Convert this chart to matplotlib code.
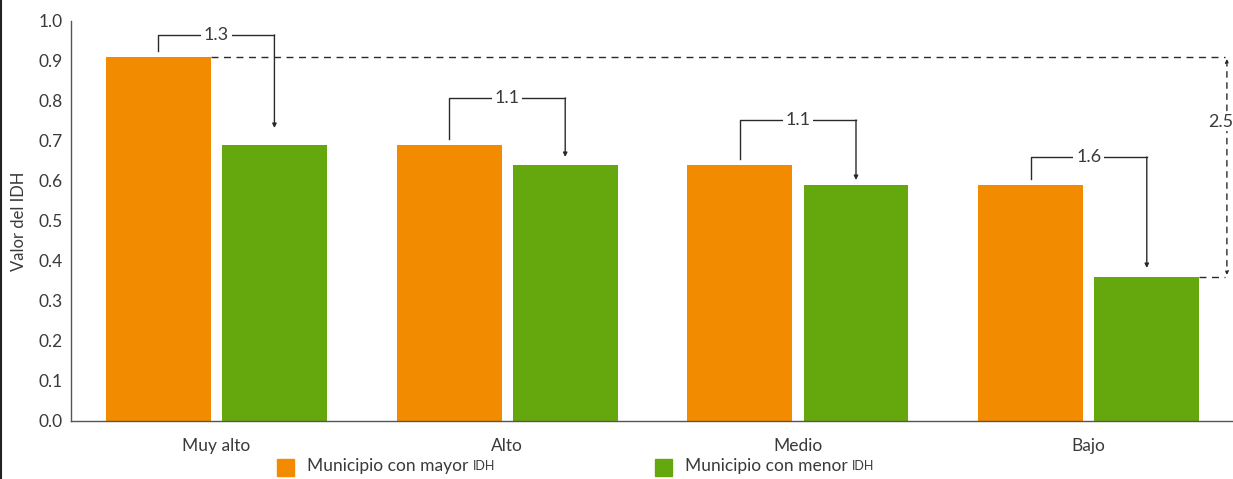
import numpy as np
import matplotlib
matplotlib.use("Agg")
import matplotlib.pyplot as plt
from matplotlib.lines import Line2D
from matplotlib.patches import Rectangle

plt.rcParams["font.family"] = ["Lato", "DejaVu Sans"]

# datos
categorias = ["Muy alto", "Alto", "Medio", "Bajo"]
idh_mayor = [0.91, 0.69, 0.64, 0.59]
idh_menor = [0.69, 0.64, 0.59, 0.36]
brecha = ["1.3", "1.1", "1.1", "1.6"]
nivel_corchete = [0.965, 0.8075, 0.7525, 0.66]
fin_flecha = [0.7325, 0.66, 0.6025, 0.3825]
brecha_total = "2.5"
y_ticks = [0.0, 0.1, 0.2, 0.3, 0.4, 0.5, 0.6, 0.7, 0.8, 0.9, 1.0]

naranja = "#F28B00"
verde = "#64A80D"
gris = "#2a2a2a"
texto = "#3a3a3a"

fig = plt.figure(figsize=(12.33, 4.79), dpi=100)
ax = fig.add_axes([0.0576, 0.1211, 0.9424, 0.8351])

x = np.arange(len(categorias))
ancho = 0.361
desp = 0.1995
ax.bar(x - desp, idh_mayor, width=ancho, color=naranja, zorder=2)
ax.bar(x + desp, idh_menor, width=ancho, color=verde, zorder=2)

# corchetes con flecha
for i in range(len(categorias)):
    x0 = x[i] - desp
    x1 = x[i] + desp
    top = nivel_corchete[i]
    ax.plot([x0, x0, x1], [idh_mayor[i] + 0.015, top, top], color=gris, lw=1, zorder=3)
    ax.annotate("", xy=(x1, fin_flecha[i]), xytext=(x1, top),
                arrowprops=dict(arrowstyle="-|>", color=gris, lw=1,
                                mutation_scale=6, shrinkA=0, shrinkB=0), zorder=3)
    ax.text(x[i], top, brecha[i], ha="center", va="center", fontsize=13, color=texto,
            bbox=dict(facecolor="white", edgecolor="none", pad=2), zorder=4)

# brecha total
x_d = 3.475
ax.plot([x[0] - desp + ancho / 2, x_d - 0.008], [idh_mayor[0], idh_mayor[0]],
        color=gris, lw=1, ls=(0, (5, 4)), zorder=1)
ax.plot([x[3] + desp + ancho / 2, x_d - 0.008], [idh_menor[3], idh_menor[3]],
        color=gris, lw=1, ls=(0, (5, 4)), zorder=1)
ax.annotate("", xy=(x_d, idh_menor[3] + 0.005), xytext=(x_d, idh_mayor[0] - 0.005),
            arrowprops=dict(arrowstyle="<|-|>", color=gris, lw=1, ls=(0, (4, 4)),
                            mutation_scale=5, shrinkA=0, shrinkB=0))
ax.text(3.497, 0.7475, brecha_total, ha="right", va="center", fontsize=13, color=texto,
        bbox=dict(facecolor="white", edgecolor="none", pad=1), zorder=4)

ax.set_xlim(-0.5, 3.496)
ax.set_ylim(0, 1.0)
ax.set_yticks(y_ticks)
ax.set_yticklabels(["%.1f" % v for v in y_ticks])
ax.set_xticks(x)
ax.set_xticklabels(categorias)
ax.tick_params(axis="both", length=0, labelsize=12.5, colors=texto)
ax.tick_params(axis="y", pad=6)
ax.tick_params(axis="x", pad=12)
ax.set_ylabel("Valor del IDH", fontsize=12, color=texto, labelpad=8)
for s in ["top", "right"]:
    ax.spines[s].set_visible(False)
for s in ["left", "bottom"]:
    ax.spines[s].set_color("#555555")
    ax.spines[s].set_linewidth(1)

# leyenda
leyenda = [("Municipio con mayor ", naranja, 277), ("Municipio con menor ", verde, 655)]
for etiqueta, color, px in leyenda:
    fig.patches.append(Rectangle((px / 1233, 3 / 479), 17 / 1233, 17 / 479,
                                 transform=fig.transFigure, color=color))
    t = fig.text((px + 30) / 1233, 8 / 479, etiqueta, fontsize=12.5, color=texto,
                 va="baseline", ha="left")
    ax.annotate("IDH", xy=(1, 0), xycoords=t, xytext=(0, 2.7), textcoords="offset points",
                fontsize=9, color=texto, va="baseline", ha="left",
                annotation_clip=False)

# borde izquierdo
fig.add_artist(Line2D([0.0008, 0.0008], [0, 1], transform=fig.transFigure, color="#222222", lw=1.5))

fig.savefig("out.png", dpi=100)
